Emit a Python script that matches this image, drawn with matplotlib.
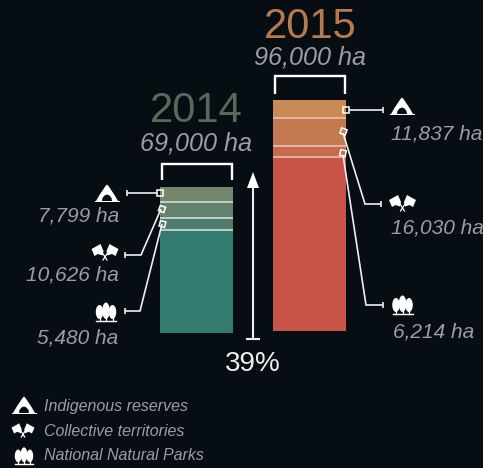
import matplotlib
matplotlib.use("Agg")
import matplotlib.pyplot as plt
from matplotlib.patches import Polygon, Ellipse, Rectangle
from matplotlib.transforms import Affine2D

BG = "#060e14"
years = ["2014", "2015"]
totals = ["69,000 ha", "96,000 ha"]
year_colors = ["#56695a", "#b67a4c"]
# Drawn heights, top segment first
heights_2014 = [14.5, 16.5, 11.5, 103.5]
heights_2015 = [18, 27.5, 11.5, 174]
colors_2014 = ["#74866c", "#62826c", "#4d7b6c", "#337b6f"]
colors_2015 = ["#c98b55", "#c47a50", "#c56b50", "#c75349"]
labels_2014 = ["7,799 ha", "10,626 ha", "5,480 ha"]
labels_2015 = ["11,837 ha", "16,030 ha", "6,214 ha"]
legend_labels = ["Indigenous reserves", "Collective territories", "National Natural Parks"]
growth = "39%"

fig = plt.figure(figsize=(4.83, 4.68), dpi=100, facecolor=BG)
ax = fig.add_axes([0, 0, 1, 1])
ax.set_xlim(0, 483)
ax.set_ylim(468, 0)
ax.axis("off")

FONT = dict(family="Liberation Sans")
GREY = "#9a9ea0"
WHITE = "#eeeeee"


def stack(heights, colors, x0, width, base, sep):
    y = base
    tops = []
    for h, c in zip(heights[::-1], colors[::-1]):
        ax.bar(x0 + width / 2, -h, width=width, bottom=y, color=c, linewidth=0, zorder=2)
        y -= h
        tops.append(y)
    tops = tops[::-1]
    for t in tops[1:]:
        ax.plot([x0, x0 + width], [t, t], color=sep, lw=1.1, zorder=3, solid_capstyle="butt")
    return tops


def marker(x, y, angle=0):
    ax.add_patch(Rectangle((-2.8, -2.8), 5.6, 5.6, fc="none", ec="white", lw=1.1, zorder=6,
                           transform=Affine2D().rotate_deg(angle).translate(x, y) + ax.transData))


def line(xs, ys, lw=1.2):
    ax.plot(xs, ys, color="#eeeeee", lw=lw, zorder=5, solid_capstyle="butt", solid_joinstyle="miter")


def tent(cx, by, s=1.0):
    pts = [(-11, 0), (-7.5, -6), (-1.5, -15), (0, -16.5), (1.5, -15), (7.5, -6), (11, 0)]
    ax.add_patch(Polygon([(cx + a * s, by + b * s) for a, b in pts], fc="white", ec="none", zorder=6))
    ax.add_patch(Polygon([(cx + a * s, by + b * s) for a, b in
                          [(-5, 0), (-4.5, -3), (-2.5, -5.5), (0, -6.5), (2.5, -5.5), (4.5, -3), (5, 0)]],
                         fc=BG, ec="none", zorder=7))
    ax.add_patch(Rectangle((cx - 12.5 * s, by - 0.3), 25 * s, 1.1, fc="white", ec="none", zorder=8))


def flags(cx, cy, s=1.0):
    left = [(-13.5, -4), (-8, -7), (-4.5, -9), (-1.5, -2), (-2.5, 2.5), (-7, 1), (-10.5, 3)]
    for sign in (1, -1):
        ax.add_patch(Polygon([(cx + sign * a * s, cy + b * s) for a, b in left], fc="white", ec="none", zorder=6))
        ax.plot([cx + sign * 2.5 * s, cx - sign * 2 * s], [cy, cy + 7 * s], color="white", lw=0.9, zorder=6)


def trees(cx, by, s=1.0):
    for dx, w, h in [(-6.5, 7.5, 14), (0, 7.5, 16.5), (6.5, 7.5, 14)]:
        ax.add_patch(Ellipse((cx + dx * s, by - 2 * s - h * s / 2), w * s, h * s, fc="white", ec="none", zorder=6))
        ax.plot([cx + dx * s] * 2, [by, by - 4 * s], color="white", lw=0.9, zorder=6)
    ax.plot([cx - 10 * s, cx + 10 * s], [by, by], color="white", lw=1, zorder=6)


def bracket(x0, x1, top, bottom):
    ax.plot([x0, x0, x1, x1], [bottom, top, top, bottom], color="white", lw=1.7, zorder=5,
            solid_joinstyle="miter", solid_capstyle="butt")


# Bars
tops14 = stack(heights_2014, colors_2014, 160, 73, 333, "#dfe6e0")
tops15 = stack(heights_2015, colors_2015, 273, 73, 331, "#ecc8b4")

# Headers
ax.text(196, 111, years[0], color=year_colors[0], fontsize=30, ha="center", va="center", **FONT)
ax.text(310.5, 27, years[1], color=year_colors[1], fontsize=30, ha="center", va="center", **FONT)
ax.text(196, 143, totals[0], color=GREY, fontsize=18.2, style="italic", ha="center", va="center", **FONT)
ax.text(310.5, 58, totals[1], color=GREY, fontsize=18.2, style="italic", ha="center", va="center", **FONT)
bracket(161.5, 231.5, 164, 180)
bracket(275, 345, 76, 94)

# Growth arrow
line([253, 253], [338, 178], lw=1.5)
ax.add_patch(Polygon([(247, 188), (253, 172), (259, 188)], fc="white", ec="none", zorder=6))
line([246, 260], [339, 339], lw=1.5)
ax.text(253, 364, growth, color=WHITE, fontsize=20, ha="center", va="center", **FONT)

# 2014 callouts
line([127, 157], [193, 193]); line([127, 127], [190, 196])
marker(160, 193)
line([125, 141, 161], [255, 255, 209]); line([125, 125], [252, 258])
marker(162, 209, 20)
line([125, 140, 162], [311, 311, 224]); line([125, 125], [308, 314])
marker(162.5, 224, 15)
tent(107, 201); flags(105, 253); trees(106, 321)
for t, x, y in zip(labels_2014, [119, 119, 118], [216, 275, 338]):
    ax.text(x, y, t, color=GREY, fontsize=15, style="italic", ha="right", va="center", **FONT)

# 2015 callouts
line([349, 383], [110, 110]); line([383, 383], [107, 113])
marker(346, 110)
line([343, 365, 381], [133, 204, 204]); line([381, 381], [201, 207])
marker(343.5, 131.5, 20)
line([343, 366, 383], [155, 305, 305]); line([383, 383], [302, 308])
marker(343, 153, 10)
tent(402, 114); flags(402.5, 204); trees(402.5, 314)
for t, x, y in zip(labels_2015, [391, 391, 393], [134, 228, 332]):
    ax.text(x, y, t, color=GREY, fontsize=15, style="italic", ha="left", va="center", **FONT)

# Legend
for t, y in zip(legend_labels, [407, 431, 455]):
    ax.text(44, y, t, color=GREY, fontsize=11.5, style="italic", ha="left", va="center", **FONT)
tent(24, 413, 1.0); flags(23, 431, 0.85); trees(24, 464, 0.9)

fig.savefig("out.png", dpi=100, facecolor=BG)
